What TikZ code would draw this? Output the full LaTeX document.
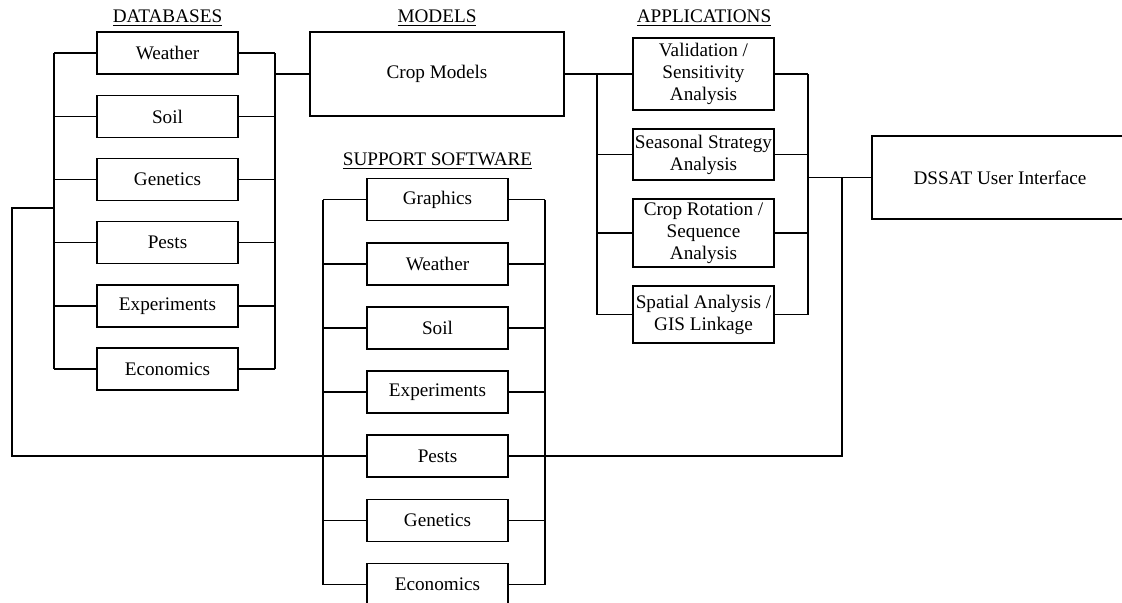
\documentclass[tikz,border=0pt]{standalone}
\usepackage{fontspec}
\setmainfont{Liberation Serif}
\begin{document}
\begin{tikzpicture}[x=0.75pt,y=-0.75pt,
  box/.style={draw,line width=1.2pt,inner sep=0pt,align=center,minimum width=105.75pt,
    font=\fontsize{14.4}{16.5}\selectfont},
  sbox/.style={box,minimum height=31.5pt},
  conn/.style={line width=1pt},
  hdr/.style={font=\fontsize{14.4}{16.5}\selectfont,inner sep=0pt}]
\useasboundingbox (0,0) rectangle (1122,603);
% headers
\node[hdr] (h1) at (167.5,18) {\underline{DATABASES}};
\node[hdr] (h2) at (437,18) {\underline{MODELS}};
\node[hdr] (h3) at (704,18) {\underline{APPLICATIONS}};
\node[hdr] (h4) at (437.5,161) {\underline{SUPPORT SOFTWARE}};
% databases
\node[sbox] (dW) at (167.5,53) {Weather};
\node[sbox] (dS) at (167.5,116.5) {Soil};
\node[sbox] (dG) at (167.5,179.5) {Genetics};
\node[sbox] (dP) at (167.5,242.5) {Pests};
\node[sbox] (dX) at (167.5,306) {Experiments};
\node[sbox] (dE) at (167.5,369) {Economics};
% model
\node[box,minimum width=190.5pt,minimum height=63pt] (cm) at (437,74) {Crop Models};
% applications
\node[box,minimum height=54pt] (aV) at (703.5,74) {Validation /\\Sensitivity\\Analysis};
\node[box,minimum height=38.25pt] (aS) at (703.5,154.5) {Seasonal Strategy\\Analysis};
\node[box,minimum height=51pt] (aC) at (703.5,233) {Crop Rotation /\\Sequence\\Analysis};
\node[box,minimum height=42.75pt] (aG) at (703.5,314.5) {Spatial Analysis /\\GIS Linkage};
% user interface
\node[box,minimum width=192pt,minimum height=62.25pt] (ui) at (1000,177.5) {DSSAT User Interface};
% support software
\node[sbox] (sG) at (437.5,199.5) {Graphics};
\node[sbox] (sW) at (437.5,264) {Weather};
\node[sbox] (sS) at (437.5,328) {Soil};
\node[sbox] (sX) at (437.5,392) {Experiments};
\node[sbox] (sP) at (437.5,456) {Pests};
\node[sbox] (sN) at (437.5,520.5) {Genetics};
\node[sbox] (sE) at (437.5,584.5) {Economics};
% bus coordinates
\coordinate (dbL) at (54,0);
\coordinate (dbR) at (275,0);
\coordinate (apL) at (597,0);
\coordinate (apR) at (808,0);
\coordinate (ssL) at (323,0);
\coordinate (ssR) at (545,0);
\coordinate (fbR) at (842,0);
\coordinate (fbL) at (12,208);
% database buses
\foreach \n in {dW,dS,dG,dP,dX,dE}{
  \draw[conn] (\n.west) -- (\n.west -| dbL);
  \draw[conn] (\n.east) -- (\n.east -| dbR);
}
\draw[conn] (dW.west -| dbL) -- (dE.west -| dbL);
\draw[conn] (dW.east -| dbR) -- (dE.east -| dbR);
\draw[conn] (cm.west -| dbR) -- (cm.west);
% model to applications
\draw[conn] (cm.east) -- (aV.west);
\foreach \n in {aV,aS,aC,aG}{
  \draw[conn] (\n.west) -- (\n.west -| apL);
  \draw[conn] (\n.east) -- (\n.east -| apR);
}
\draw[conn] (aV.west -| apL) -- (aG.west -| apL);
\draw[conn] (aV.east -| apR) -- (aG.east -| apR);
\draw[conn] (ui.west) -- (ui.west -| apR);
% support software buses
\foreach \n in {sG,sW,sS,sX,sP,sN,sE}{
  \draw[conn] (\n.west) -- (\n.west -| ssL);
  \draw[conn] (\n.east) -- (\n.east -| ssR);
}
\draw[conn] (sG.west -| ssL) -- (sE.west -| ssL);
\draw[conn] (sG.east -| ssR) -- (sE.east -| ssR);
% feedback loops
\draw[conn] (fbL -| dbL) -- (fbL) |- (sP.west -| ssL);
\draw[conn] (sP.east -| ssR) -- (sP.east -| fbR) -- (ui.west -| fbR);
\end{tikzpicture}
\end{document}
